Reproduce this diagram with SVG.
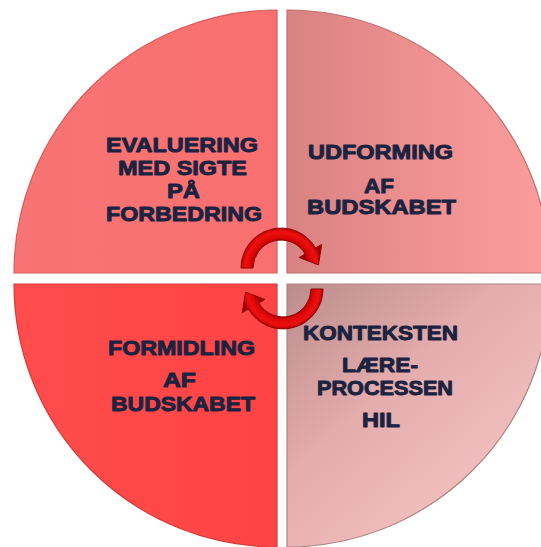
<svg xmlns="http://www.w3.org/2000/svg" width="541" height="547" viewBox="0 0 541 547">
  <style>
    .lbl { font-family: "Liberation Sans", Arial, sans-serif; font-weight: bold; font-size: 20px; fill: #1B2340; stroke: #1B2340; stroke-width: 0.9px; stroke-linejoin: round; text-anchor: middle; }
    .piece { stroke-width: 1.2; }
  </style>
  <defs>
    <linearGradient id="gTR" x1="287" y1="0" x2="550" y2="0" gradientUnits="userSpaceOnUse">
      <stop offset="0" stop-color="#D88282"/>
      <stop offset="0.5" stop-color="#EE9090"/>
      <stop offset="1" stop-color="#FB9D9D"/>
    </linearGradient>
    <linearGradient id="gBR" x1="287" y1="284" x2="500" y2="520" gradientUnits="userSpaceOnUse">
      <stop offset="0" stop-color="#BC8C8C"/>
      <stop offset="0.45" stop-color="#E4ACAC"/>
      <stop offset="1" stop-color="#F6C4C4"/>
    </linearGradient>
    <linearGradient id="gTL" x1="14" y1="0" x2="277" y2="0" gradientUnits="userSpaceOnUse">
      <stop offset="0" stop-color="#F77474"/>
      <stop offset="1" stop-color="#FA7070"/>
    </linearGradient>
    <linearGradient id="gBL" x1="14" y1="0" x2="277" y2="0" gradientUnits="userSpaceOnUse">
      <stop offset="0" stop-color="#FF4C4C"/>
      <stop offset="1" stop-color="#FE4444"/>
    </linearGradient>
    <radialGradient id="gA1" cx="281" cy="268" r="42" gradientUnits="userSpaceOnUse">
      <stop offset="0.62" stop-color="#9E0000"/>
      <stop offset="0.74" stop-color="#E00606"/>
      <stop offset="0.86" stop-color="#EE1010"/>
      <stop offset="1" stop-color="#A00000"/>
    </radialGradient>
    <radialGradient id="gA2" cx="283" cy="289" r="42" gradientUnits="userSpaceOnUse">
      <stop offset="0.62" stop-color="#9E0000"/>
      <stop offset="0.74" stop-color="#E00606"/>
      <stop offset="0.86" stop-color="#EE1010"/>
      <stop offset="1" stop-color="#A00000"/>
    </radialGradient>
  </defs>

  <g id="node-evaluering">
    <path class="piece" d="M 277 273 L 14 273 A 263 263 0 0 1 277 10 Z" fill="url(#gTL)" stroke="#D85C5C"/>
    <text class="lbl" x="182" y="152" textLength="152" lengthAdjust="spacingAndGlyphs">EVALUERING</text>
    <text class="lbl" x="182.5" y="175" textLength="129" lengthAdjust="spacingAndGlyphs">MED SIGTE</text>
    <text class="lbl" x="183.5" y="198" textLength="33" lengthAdjust="spacingAndGlyphs">PÅ</text>
    <text class="lbl" x="184" y="221" textLength="156" lengthAdjust="spacingAndGlyphs">FORBEDRING</text>
  </g>

  <g id="node-udforming">
    <path class="piece" d="M 287 273 L 287 10 A 263 263 0 0 1 550 273 Z" fill="url(#gTR)" stroke="#C07070"/>
    <text class="lbl" x="380.5" y="159" textLength="145" lengthAdjust="spacingAndGlyphs">UDFORMING</text>
    <text class="lbl" x="379" y="193" textLength="30" lengthAdjust="spacingAndGlyphs">AF</text>
    <text class="lbl" x="381.5" y="214" textLength="149" lengthAdjust="spacingAndGlyphs">BUDSKABET</text>
  </g>

  <g id="node-formidling">
    <path class="piece" d="M 277 284 L 277 547 A 263 263 0 0 1 14 284 Z" fill="url(#gBL)" stroke="#D83838"/>
    <text class="lbl" x="181.5" y="355" textLength="147" lengthAdjust="spacingAndGlyphs">FORMIDLING</text>
    <text class="lbl" x="179.5" y="387" textLength="33" lengthAdjust="spacingAndGlyphs">AF</text>
    <text class="lbl" x="183" y="411" textLength="144" lengthAdjust="spacingAndGlyphs">BUDSKABET</text>
  </g>

  <g id="node-konteksten">
    <path class="piece" d="M 287 284 L 550 284 A 263 263 0 0 1 287 547 Z" fill="url(#gBR)" stroke="#B08484"/>
    <text class="lbl" x="380.5" y="340" textLength="155" lengthAdjust="spacingAndGlyphs">KONTEKSTEN</text>
    <text class="lbl" x="380" y="372" textLength="76" lengthAdjust="spacingAndGlyphs">LÆRE-</text>
    <text class="lbl" x="385" y="395" textLength="136" lengthAdjust="spacingAndGlyphs">PROCESSEN</text>
    <text class="lbl" x="381" y="427" textLength="38" lengthAdjust="spacingAndGlyphs">HIL</text>
  </g>

  <g id="connectors">
    <path d="M 241 268 A 40 40 0 0 1 315.6 248 L 321.7 244.5 L 318.4 264.9 L 299.2 257.5 L 305.2 254 A 28 28 0 0 0 253 268 Z" fill="url(#gA1)" stroke="#8E0000" stroke-width="1"/>
    <path d="M 323 289 A 40 40 0 0 1 248.4 309 L 242.3 312.5 L 245.6 292.1 L 264.8 299.5 L 258.8 303 A 28 28 0 0 0 311 289 Z" fill="url(#gA2)" stroke="#8E0000" stroke-width="1"/>
  </g>
</svg>
